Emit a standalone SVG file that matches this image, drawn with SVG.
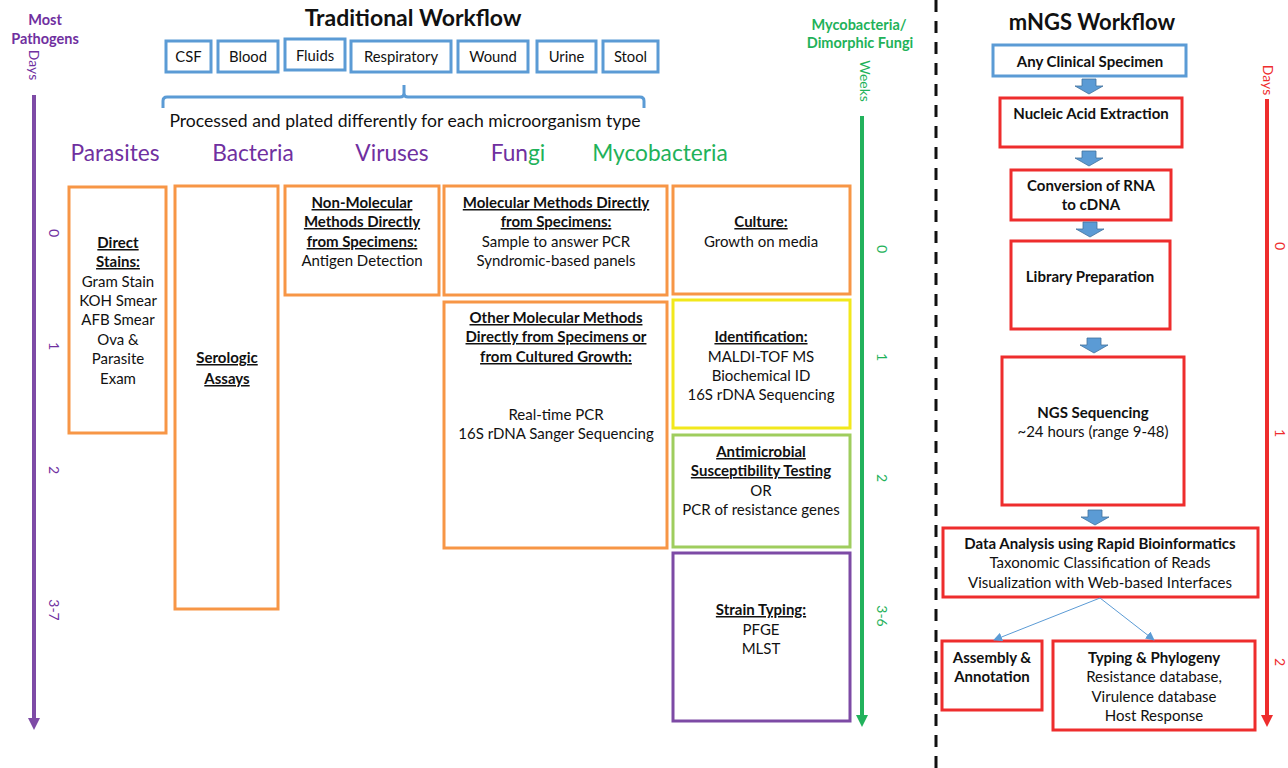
<svg xmlns="http://www.w3.org/2000/svg" width="1288" height="768" viewBox="0 0 1288 768">
<style>
text{font-family:Lato,"Liberation Sans",sans-serif;fill:#111;text-anchor:middle}
.ttl{font-size:23px;font-weight:700}
.ttl2{font-size:22px;font-weight:700}
.spec{font-size:14.8px}
.cat{font-size:22.7px}
.h{font-size:15px;font-weight:700;text-decoration:underline}
.n{font-size:15px}
.mb{font-size:15px;font-weight:700}
.mn{font-size:15px}
.lb{font-size:14.5px;font-weight:700}
.ax{font-size:14px}
.pur{fill:#7030A0}
.grn{fill:#1FB25A}
.red{fill:#EE2D2D}
.sb{fill:none;stroke:#5B9BD5;stroke-width:3}
.or{fill:none;stroke:#F79646;stroke-width:3}
.ye{fill:none;stroke:#F2E81C;stroke-width:3}
.lg{fill:none;stroke:#9FCD5E;stroke-width:3}
.pb{fill:none;stroke:#7D4AA5;stroke-width:3}
.rb{fill:none;stroke:#EE2D2D;stroke-width:3}
.ba{fill:#5B9BD5;stroke:#41719C;stroke-width:0.8}
</style>
<defs>
<path id="barrow" d="M-7,0 H7 V7 H14 L0,15 L-14,7 H-7 Z"/>
<marker id="sm" viewBox="0 0 10 10" refX="9" refY="5" markerWidth="9" markerHeight="9" markerUnits="userSpaceOnUse" orient="auto"><path d="M0,0 L10,5 L0,10 Z" fill="#5B9BD5"/></marker>
</defs>
<rect width="1288" height="768" fill="#fff"/>

<g id="axis-left">
<text class="lb pur" x="45" y="25">Most</text>
<text class="lb pur" x="45" y="44">Pathogens</text>
<text class="ax pur" transform="translate(34,65) rotate(90)" y="5">Days</text>
<path d="M34,95 V719" stroke="#7E4BA6" stroke-width="4"/>
<path d="M28,718 H40 L34,730 Z" fill="#7E4BA6"/>
<text class="ax pur" transform="translate(54,233) rotate(90)" y="5">0</text>
<text class="ax pur" transform="translate(54,346) rotate(90)" y="5">1</text>
<text class="ax pur" transform="translate(54,470) rotate(90)" y="5">2</text>
<text class="ax pur" transform="translate(54,610) rotate(90)" y="5">3-7</text>
</g>

<g id="title-traditional"><text class="ttl" x="413" y="26">Traditional Workflow</text></g>

<g id="specimens">
<g id="s-csf"><rect class="sb" x="166" y="41" width="45" height="31"/><text class="spec" x="188.5" y="62">CSF</text></g>
<g id="s-blood"><rect class="sb" x="218" y="41" width="60" height="31"/><text class="spec" x="248" y="62">Blood</text></g>
<g id="s-fluids"><rect class="sb" x="285" y="39" width="60" height="31"/><text class="spec" x="315" y="61">Fluids</text></g>
<g id="s-resp"><rect class="sb" x="351" y="41" width="100" height="31"/><text class="spec" x="401" y="62">Respiratory</text></g>
<g id="s-wound"><rect class="sb" x="458" y="41" width="70" height="31"/><text class="spec" x="493" y="62">Wound</text></g>
<g id="s-urine"><rect class="sb" x="537" y="41" width="59" height="31"/><text class="spec" x="566.5" y="62">Urine</text></g>
<g id="s-stool"><rect class="sb" x="603" y="41" width="55" height="31"/><text class="spec" x="630.5" y="62">Stool</text></g>
</g>

<g id="brace">
<path d="M163,108 V101 Q163,97 167,97 H400 Q404,97 404,93 V85 M404,93 Q404,97 408,97 H640 Q644,97 644,101 V108" fill="none" stroke="#5B9BD5" stroke-width="3"/>
<text style="font-size:17.6px" x="405" y="127">Processed and plated differently for each microorganism type</text>
</g>

<g id="categories">
<text class="cat pur" x="115" y="161">Parasites</text>
<text class="cat pur" x="253" y="161">Bacteria</text>
<text class="cat pur" x="392" y="161">Viruses</text>
<text class="cat" x="518" y="161"><tspan class="pur">Fun</tspan><tspan class="grn">gi</tspan></text>
<text class="cat grn" x="660" y="161">Mycobacteria</text>
</g>

<g id="n-direct-stains">
<rect class="or" x="69" y="187" width="97" height="246"/>
<text class="h" x="118" y="248">Direct</text>
<text class="h" x="118" y="267">Stains:</text>
<text class="n" x="118" y="287">Gram Stain</text>
<text class="n" x="118" y="306">KOH Smear</text>
<text class="n" x="118" y="325">AFB Smear</text>
<text class="n" x="118" y="345">Ova &amp;</text>
<text class="n" x="118" y="364">Parasite</text>
<text class="n" x="118" y="384">Exam</text>
</g>

<g id="n-serologic">
<rect class="or" x="175" y="186" width="103" height="423"/>
<text class="h" x="227" y="363">Serologic</text>
<text class="h" x="227" y="384">Assays</text>
</g>

<g id="n-nonmolecular">
<rect class="or" x="285" y="186" width="154" height="109"/>
<text class="h" x="362" y="208">Non-Molecular</text>
<text class="h" x="362" y="227">Methods Directly</text>
<text class="h" x="362" y="247">from Specimens:</text>
<text class="n" x="362" y="266">Antigen Detection</text>
</g>

<g id="n-molecular-direct">
<rect class="or" x="444" y="186" width="223" height="109"/>
<text class="h" x="556" y="208">Molecular Methods Directly</text>
<text class="h" x="556" y="227">from Specimens:</text>
<text class="n" x="556" y="247">Sample to answer PCR</text>
<text class="n" x="556" y="266">Syndromic-based panels</text>
</g>

<g id="n-other-molecular">
<rect class="or" x="444" y="302" width="223" height="246"/>
<text class="h" x="556" y="323">Other Molecular Methods</text>
<text class="h" x="556" y="342">Directly from Specimens or</text>
<text class="h" x="556" y="362">from Cultured Growth:</text>
<text class="n" x="556" y="420">Real-time PCR</text>
<text class="n" x="556" y="439">16S rDNA Sanger Sequencing</text>
</g>

<g id="n-culture">
<rect class="or" x="673" y="186" width="177" height="108"/>
<text class="h" x="761" y="227">Culture:</text>
<text class="n" x="761" y="247">Growth on media</text>
</g>

<g id="n-identification">
<rect class="ye" x="673" y="300" width="177" height="128"/>
<text class="h" x="761" y="342">Identification:</text>
<text class="n" x="761" y="362">MALDI-TOF MS</text>
<text class="n" x="761" y="381">Biochemical ID</text>
<text class="n" x="761" y="400">16S rDNA Sequencing</text>
</g>

<g id="n-ast">
<rect class="lg" x="673" y="435" width="177" height="112"/>
<text class="h" x="761" y="457">Antimicrobial</text>
<text class="h" x="761" y="476">Susceptibility Testing</text>
<text class="n" x="761" y="496">OR</text>
<text class="n" x="761" y="515">PCR of resistance genes</text>
</g>

<g id="n-strain">
<rect class="pb" x="673" y="553" width="177" height="168"/>
<text class="h" x="761" y="615">Strain Typing:</text>
<text class="n" x="761" y="635">PFGE</text>
<text class="n" x="761" y="654">MLST</text>
</g>

<g id="axis-green">
<text class="lb grn" x="859" y="30">Mycobacteria/</text>
<text class="lb grn" x="860" y="48">Dimorphic Fungi</text>
<text class="ax grn" transform="translate(865,81) rotate(90)" y="5">Weeks</text>
<path d="M862,116 V716" stroke="#22B25C" stroke-width="4"/>
<path d="M856,715 H868 L862,727 Z" fill="#22B25C"/>
<text class="ax grn" transform="translate(882,249) rotate(90)" y="5">0</text>
<text class="ax grn" transform="translate(882,357) rotate(90)" y="5">1</text>
<text class="ax grn" transform="translate(882,478) rotate(90)" y="5">2</text>
<text class="ax grn" transform="translate(882,616) rotate(90)" y="5">3-6</text>
</g>

<g id="divider"><path d="M936,0 V768" stroke="#111" stroke-width="3" stroke-dasharray="12 9"/></g>

<g id="title-mngs"><text class="ttl2" x="1092" y="30">mNGS Workflow</text></g>

<g id="m-specimen"><rect class="sb" x="993" y="45" width="193" height="31"/><text class="mb" x="1090" y="67">Any Clinical Specimen</text></g>
<g id="m-extraction"><rect class="rb" x="1000" y="98" width="182" height="49"/><text class="mb" x="1091" y="119">Nucleic Acid Extraction</text></g>
<g id="m-conversion"><rect class="rb" x="1011" y="170" width="160" height="50"/><text class="mb" x="1091" y="191">Conversion of RNA</text><text class="mb" x="1091" y="210">to cDNA</text></g>
<g id="m-library"><rect class="rb" x="1011" y="241" width="159" height="88"/><text class="mb" x="1090" y="282">Library Preparation</text></g>
<g id="m-ngs"><rect class="rb" x="1002" y="357" width="182" height="148"/><text class="mb" x="1093" y="418">NGS Sequencing</text><text class="mn" x="1093" y="437">~24 hours (range 9-48)</text></g>
<g id="m-analysis"><rect class="rb" x="943" y="528" width="315" height="69"/><text class="mb" x="1100" y="549">Data Analysis using Rapid Bioinformatics</text><text class="mn" x="1100" y="568">Taxonomic Classification of Reads</text><text class="mn" x="1100" y="588">Visualization with Web-based Interfaces</text></g>
<g id="m-assembly"><rect class="rb" x="942" y="641" width="100" height="69"/><text class="mb" x="992" y="663">Assembly &amp;</text><text class="mb" x="992" y="682">Annotation</text></g>
<g id="m-typing"><rect class="rb" x="1053" y="641" width="202" height="89"/><text class="mb" x="1154" y="663">Typing &amp; Phylogeny</text><text class="mn" x="1154" y="682">Resistance database,</text><text class="mn" x="1154" y="702">Virulence database</text><text class="mn" x="1154" y="721">Host Response</text></g>

<g id="connectors">
<use href="#barrow" class="ba" x="1089" y="79"/>
<use href="#barrow" class="ba" x="1089" y="151"/>
<use href="#barrow" class="ba" x="1090" y="222"/>
<use href="#barrow" class="ba" x="1094" y="338"/>
<use href="#barrow" class="ba" x="1095" y="510"/>
<path d="M1100,598 L994,640" stroke="#5B9BD5" stroke-width="1" marker-end="url(#sm)"/>
<path d="M1100,598 L1154,640" stroke="#5B9BD5" stroke-width="1" marker-end="url(#sm)"/>
</g>

<g id="axis-red">
<text class="ax red" transform="translate(1268,80) rotate(90)" y="5">Days</text>
<path d="M1267,99 V716" stroke="#EE2D2D" stroke-width="4"/>
<path d="M1261,715 H1273 L1267,727 Z" fill="#EE2D2D"/>
<text class="ax red" transform="translate(1280,246) rotate(90)" y="5">0</text>
<text class="ax red" transform="translate(1280,433) rotate(90)" y="5">1</text>
<text class="ax red" transform="translate(1280,662) rotate(90)" y="5">2</text>
</g>
</svg>
